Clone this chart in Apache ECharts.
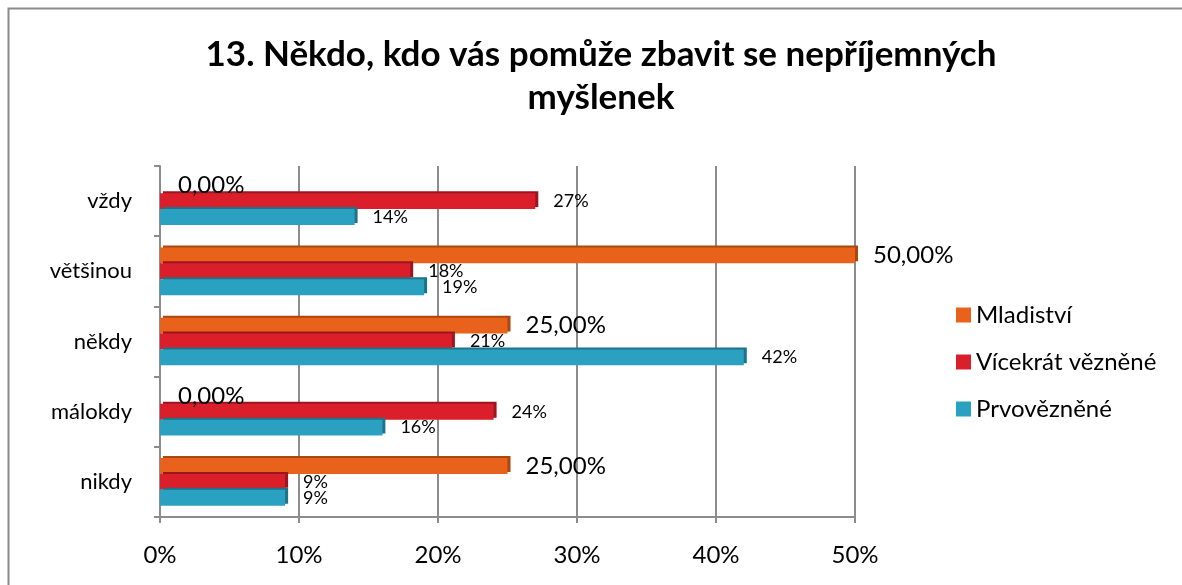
<!DOCTYPE html>
<html><head><meta charset="utf-8">
<script src="https://cdn.jsdelivr.net/npm/echarts@6/dist/echarts.min.js"></script>
<style>html,body{margin:0;padding:0;background:#fff}#c{width:1182px;height:585px}</style>
</head><body><div id="c"></div>
<script>
const categories = ['vždy', 'většinou', 'někdy', 'málokdy', 'nikdy'];
const mladistvi = [0, 50, 25, 0, 25];
const vicekrat = [27, 18, 21, 24, 9];
const prvovezneni = [14, 19, 42, 16, 9];
const seriesNames = ['Mladiství', 'Vícekrát vězněné', 'Prvovězněné'];
const xTicks = [0, 10, 20, 30, 40, 50];
const titleText = '13. Někdo, kdo vás pomůže zbavit se nepříjemných\nmyšlenek';

const FONT = 'Lato';
const chart = echarts.init(document.getElementById('c'), null, {renderer: 'canvas'});
function style3d(color, dark) {
  return {color: color, shadowColor: dark, shadowOffsetX: 3, shadowOffsetY: -2, shadowBlur: 0};
}
chart.setOption({
  animation: false,
  textStyle: {fontFamily: FONT},
  title: {
    text: titleText, left: 596, textAlign: 'center', top: 28,
    textStyle: {fontFamily: FONT, fontWeight: 'bold', fontSize: 35, color: '#000', lineHeight: 43}
  },
  graphic: [{type: 'rect', shape: {x: 8.5, y: 8.5, width: 1300, height: 700}, style: {fill: 'none', stroke: '#8a8a8a', lineWidth: 2}, silent: true}],
  legend: {
    data: seriesNames, orient: 'vertical', left: 951, top: 298, itemGap: 23,
    itemWidth: 15, itemHeight: 15, icon: 'rect',
    textStyle: {fontFamily: FONT, fontSize: 24, color: '#000'}
  },
  grid: {left: 160, right: 327, top: 166, bottom: 68},
  xAxis: {
    type: 'value', min: 0, max: 50, interval: 10,
    axisLabel: {formatter: v => xTicks.includes(v) ? v + '%' : '', fontFamily: FONT, fontSize: 24, color: '#000', margin: 26},
    axisLine: {show: true, lineStyle: {color: '#8c8c8c', width: 2}},
    axisTick: {show: true, length: 6, lineStyle: {color: '#8c8c8c', width: 2}},
    splitLine: {show: true, lineStyle: {color: '#8c8c8c', width: 2}}
  },
  yAxis: {
    type: 'category', data: categories, inverse: true,
    axisLabel: {fontFamily: FONT, fontSize: 22, color: '#000', margin: 28},
    axisLine: {show: true, lineStyle: {color: '#8c8c8c', width: 2}},
    axisTick: {show: true, length: 6, lineStyle: {color: '#8c8c8c', width: 2}}
  },
  series: [
    {name: 'Mladiství', type: 'bar', data: mladistvi, barGap: '0%', barCategoryGap: '32%',
      itemStyle: style3d('#E8621C', '#A9480F'),
      label: {show: true, position: 'right', distance: 18, fontFamily: FONT, fontSize: 24, color: '#000',
        formatter: p => p.value.toFixed(2).replace('.', ',') + '%'}},
    {name: 'Vícekrát vězněné', type: 'bar', data: vicekrat, barGap: '0%', barCategoryGap: '32%',
      itemStyle: style3d('#DA1F2B', '#9C1620'),
      label: {show: true, position: 'right', distance: 18, fontFamily: FONT, fontSize: 18, color: '#000',
        formatter: p => p.value + '%'}},
    {name: 'Prvovězněné', type: 'bar', data: prvovezneni, barGap: '0%', barCategoryGap: '32%',
      itemStyle: style3d('#2AA1C0', '#1E7289'),
      label: {show: true, position: 'right', distance: 18, fontFamily: FONT, fontSize: 18, color: '#000',
        formatter: p => p.value + '%'}}
  ]
});
</script></body></html>
